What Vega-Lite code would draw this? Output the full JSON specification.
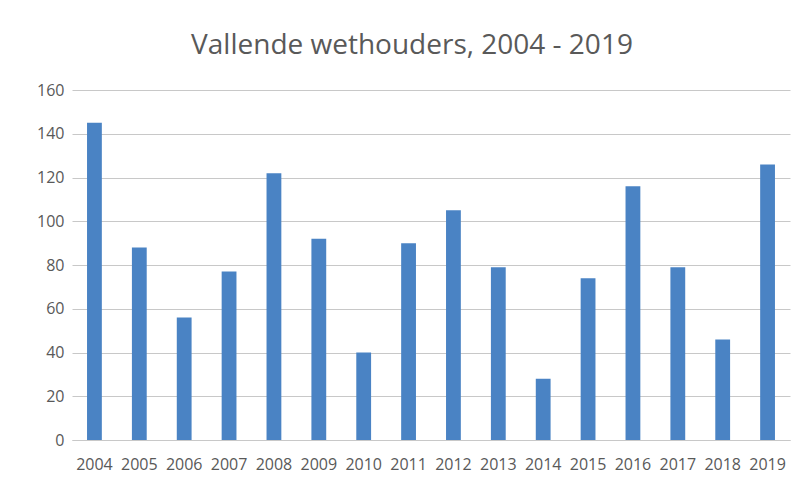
{
  "$schema": "https://vega.github.io/schema/vega-lite/v6.json",
  "width": 718,
  "height": 350,
  "autosize": {"type": "none"},
  "padding": {"left": 72, "top": 90, "right": 22, "bottom": 44},
  "background": "white",
  "title": {
    "text": "Vallende wethouders, 2004 - 2019",
    "font": "Open Sans",
    "fontSize": 28,
    "fontWeight": "normal",
    "color": "#595959",
    "anchor": "middle",
    "offset": 22,
    "dx": -19
  },
  "data": {
    "values": [
      {"jaar": "2004", "aantal": 145},
      {"jaar": "2005", "aantal": 88},
      {"jaar": "2006", "aantal": 56},
      {"jaar": "2007", "aantal": 77},
      {"jaar": "2008", "aantal": 122},
      {"jaar": "2009", "aantal": 92},
      {"jaar": "2010", "aantal": 40},
      {"jaar": "2011", "aantal": 90},
      {"jaar": "2012", "aantal": 105},
      {"jaar": "2013", "aantal": 79},
      {"jaar": "2014", "aantal": 28},
      {"jaar": "2015", "aantal": 74},
      {"jaar": "2016", "aantal": 116},
      {"jaar": "2017", "aantal": 79},
      {"jaar": "2018", "aantal": 46},
      {"jaar": "2019", "aantal": 126}
    ]
  },
  "mark": {"type": "bar", "color": "#4a83c4"},
  "encoding": {
    "x": {
      "field": "jaar",
      "type": "ordinal",
      "title": null,
      "scale": {"paddingInner": 0.67, "paddingOuter": 0.335},
      "axis": {
        "labelAngle": 0,
        "labelFont": "Open Sans",
        "labelFontSize": 16,
        "labelColor": "#595959",
        "labelPadding": 16,
        "ticks": false,
        "domainColor": "#c8c8c8",
        "domainWidth": 1,
        "grid": false
      }
    },
    "y": {
      "field": "aantal",
      "type": "quantitative",
      "title": null,
      "scale": {"domain": [0, 160], "nice": false},
      "axis": {
        "values": [0, 20, 40, 60, 80, 100, 120, 140, 160],
        "labelFont": "Open Sans",
        "labelFontSize": 16,
        "labelColor": "#595959",
        "labelPadding": 8,
        "ticks": false,
        "domain": false,
        "gridColor": "#c8c8c8",
        "gridWidth": 1
      }
    }
  },
  "config": {"view": {"stroke": null}}
}
